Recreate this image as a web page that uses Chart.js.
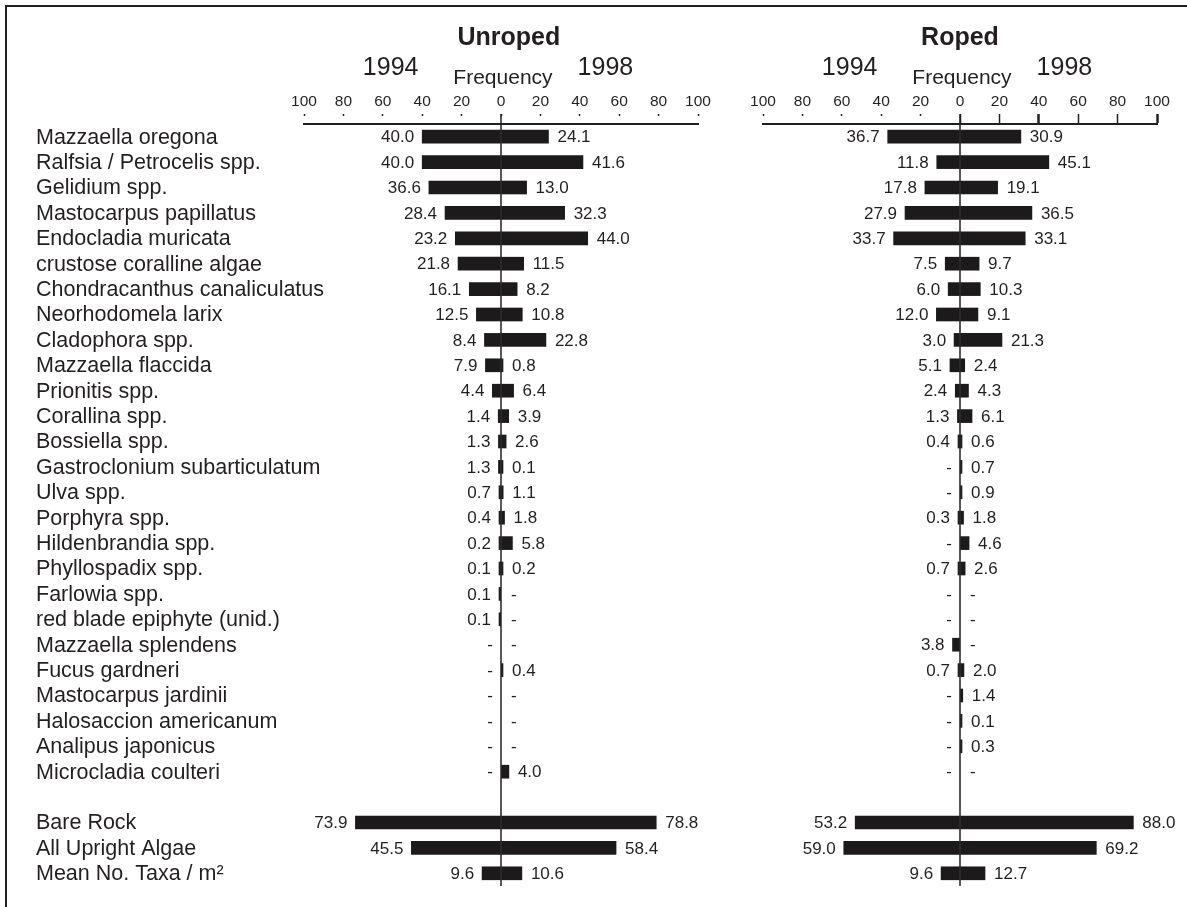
<!DOCTYPE html>
<html>
<head>
<meta charset="utf-8">
<script src="https://cdn.jsdelivr.net/npm/chart.js@4.4.1/dist/chart.umd.min.js"></script>
<style>
  html, body { margin: 0; padding: 0; background: #fff; }
  #wrap { position: relative; width: 1187px; height: 907px; overflow: hidden; }
  #frame { position: absolute; left: 5px; top: 5px; right: -10px; bottom: -10px;
           border-top: 2px solid #231f20; border-left: 2px solid #231f20; }
  canvas { position: absolute; top: 0; }
  #unroped { left: 0; }
  #roped { left: 720px; }
</style>
</head>
<body>
<div id="wrap">
  <div id="frame"></div>
  <canvas id="unroped" width="720" height="907"></canvas>
  <canvas id="roped" width="467" height="907"></canvas>
</div>
<script>
// rows (empty string = gap before the summary rows)
const categories = [
  'Mazzaella oregona', 'Ralfsia / Petrocelis spp.', 'Gelidium spp.', 'Mastocarpus papillatus',
  'Endocladia muricata', 'crustose coralline algae', 'Chondracanthus canaliculatus', 'Neorhodomela larix',
  'Cladophora spp.', 'Mazzaella flaccida', 'Prionitis spp.', 'Corallina spp.', 'Bossiella spp.',
  'Gastroclonium subarticulatum', 'Ulva spp.', 'Porphyra spp.', 'Hildenbrandia spp.', 'Phyllospadix spp.',
  'Farlowia spp.', 'red blade epiphyte (unid.)', 'Mazzaella splendens', 'Fucus gardneri',
  'Mastocarpus jardinii', 'Halosaccion americanum', 'Analipus japonicus', 'Microcladia coulteri',
  '', 'Bare Rock', 'All Upright Algae', 'Mean No. Taxa / m²'
];

// null = "-" in the table
const unroped1994 = [40.0, 40.0, 36.6, 28.4, 23.2, 21.8, 16.1, 12.5, 8.4, 7.9, 4.4, 1.4, 1.3,
  1.3, 0.7, 0.4, 0.2, 0.1, 0.1, 0.1, null, null, null, null, null, null, null, 73.9, 45.5, 9.6];
const unroped1998 = [24.1, 41.6, 13.0, 32.3, 44.0, 11.5, 8.2, 10.8, 22.8, 0.8, 6.4, 3.9, 2.6,
  0.1, 1.1, 1.8, 5.8, 0.2, null, null, null, 0.4, null, null, null, 4.0, null, 78.8, 58.4, 10.6];
const roped1994 = [36.7, 11.8, 17.8, 27.9, 33.7, 7.5, 6.0, 12.0, 3.0, 5.1, 2.4, 1.3, 0.4,
  null, null, 0.3, null, 0.7, null, null, 3.8, 0.7, null, null, null, null, null, 53.2, 59.0, 9.6];
const roped1998 = [30.9, 45.1, 19.1, 36.5, 33.1, 9.7, 10.3, 9.1, 21.3, 2.4, 4.3, 6.1, 0.6,
  0.7, 0.9, 1.8, 4.6, 2.6, null, null, null, 2.0, 1.4, 0.1, 0.3, null, null, 88.0, 69.2, 12.7];

const tickValues = [-100, -80, -60, -40, -20, 0, 20, 40, 60, 80, 100];
const yearLabels = ['1994', '1998'];
const axisTitle = 'Frequency';

const ink = '#231f20';
const barColor = '#1c1a1a';
const family = '"Liberation Sans", Arial, sans-serif';
const labelColumn = 268;

// numbers next to the bar ends
const valueLabels = {
  id: 'valueLabels',
  afterDatasetsDraw(chart) {
    const ctx = chart.ctx;
    const zero = chart.scales.x.getPixelForValue(0);
    ctx.save();
    ctx.font = '17px ' + family;
    ctx.fillStyle = ink;
    ctx.textBaseline = 'middle';
    chart.data.datasets.forEach((ds, di) => {
      const meta = chart.getDatasetMeta(di);
      ds.rawValues.forEach((v, i) => {
        if (categories[i] === '') return;
        const y = chart.scales.y.getPixelForValue(i) + 1;
        const bar = meta.data[i];
        if (di === 0) {
          ctx.textAlign = 'right';
          if (v === null) ctx.fillText('-', zero - 8, y);
          else ctx.fillText(v.toFixed(1), bar.x - 8, y);
        } else {
          ctx.textAlign = 'left';
          if (v === null) ctx.fillText('-', zero + 10, y);
          else ctx.fillText(v.toFixed(1), bar.x + 9, y);
        }
      });
    });
    ctx.restore();
  }
};

// category names; drawn here because the axis would clip the long ones
const rowLabels = {
  id: 'rowLabels',
  afterDraw(chart, args, opts) {
    if (!opts.show) return;
    const ctx = chart.ctx;
    const yScale = chart.scales.y;
    ctx.save();
    ctx.font = '21.5px ' + family;
    ctx.fillStyle = ink;
    ctx.textAlign = 'left';
    ctx.textBaseline = 'middle';
    chart.data.labels.forEach((lab, i) => {
      ctx.fillText(lab, chart.chartArea.left - labelColumn, yScale.getPixelForValue(i) + 1);
    });
    ctx.restore();
  }
};

// panel title, year headings, axis title and the zero line
const header = {
  id: 'header',
  afterDraw(chart, args, opts) {
    const x = chart.scales.x;
    const ctx = chart.ctx;
    ctx.save();
    ctx.fillStyle = ink;
    ctx.textAlign = 'center';
    ctx.textBaseline = 'alphabetic';
    ctx.font = 'bold 25px ' + family;
    ctx.fillText(opts.title, x.getPixelForValue(opts.titleAt), 45);
    ctx.font = '25px ' + family;
    ctx.fillText(yearLabels[0], x.getPixelForValue(-56), 75);
    ctx.fillText(yearLabels[1], x.getPixelForValue(53), 75);
    ctx.font = '21px ' + family;
    ctx.fillText(axisTitle, x.getPixelForValue(1), 84);

    const z = x.getPixelForValue(0);
    ctx.strokeStyle = ink;
    ctx.lineWidth = 1.5;
    ctx.beginPath();
    ctx.moveTo(z, 114);
    ctx.lineTo(z, chart.chartArea.bottom);
    ctx.stroke();
    ctx.restore();
  }
};

function makeChart(id, v1994, v1998, title, titleAt, showLabels, padding, solidRight) {
  return new Chart(document.getElementById(id), {
    type: 'bar',
    data: {
      labels: categories,
      datasets: [
        { label: yearLabels[0], data: v1994.map(v => v === null ? null : -v), rawValues: v1994,
          backgroundColor: barColor, borderColor: barColor },
        { label: yearLabels[1], data: v1998, rawValues: v1998,
          backgroundColor: barColor, borderColor: barColor }
      ]
    },
    options: {
      indexAxis: 'y',
      responsive: false,
      animation: false,
      layout: { padding: padding },
      datasets: {
        bar: { barThickness: 13, minBarLength: 2, borderWidth: 0 }
      },
      plugins: {
        legend: { display: false },
        tooltip: { enabled: false },
        header: { title: title, titleAt: titleAt },
        rowLabels: { show: showLabels }
      },
      scales: {
        x: {
          position: 'top',
          stacked: true,
          min: -100,
          max: 100,
          afterBuildTicks: s => { s.ticks = tickValues.map(v => ({ value: v })); },
          afterFit: s => { s.height = 124; },
          ticks: {
            callback: v => String(Math.abs(v)),
            font: { size: 15.5, family: family },
            color: ink,
            padding: 3,
            maxRotation: 0,
            autoSkip: false
          },
          grid: {
            drawOnChartArea: false,
            tickLength: 10,
            tickColor: ink,
            tickWidth: c => (solidRight && c.tick && (c.tick.value === 40 || c.tick.value === 100)) ? 2.5 : 1.5,
            tickBorderDash: c => (solidRight && c.tick && c.tick.value >= 0) ? [] : [2, 20]
          },
          border: { display: true, color: ink, width: 2 }
        },
        y: {
          stacked: true,
          display: showLabels,
          afterFit: s => { s.width = showLabels ? labelColumn : 0; },
          grid: { display: false },
          border: { display: false },
          ticks: { display: false, autoSkip: false }
        }
      }
    },
    plugins: [valueLabels, rowLabels, header]
  });
}

makeChart('unroped', unroped1994, unroped1998, 'Unroped', 4, true,
  { left: 36, right: 22, top: 0, bottom: 21 }, false);
makeChart('roped', roped1994, roped1998, 'Roped', 0, false,
  { left: 43, right: 30, top: 0, bottom: 21 }, true);
</script>
</body>
</html>
